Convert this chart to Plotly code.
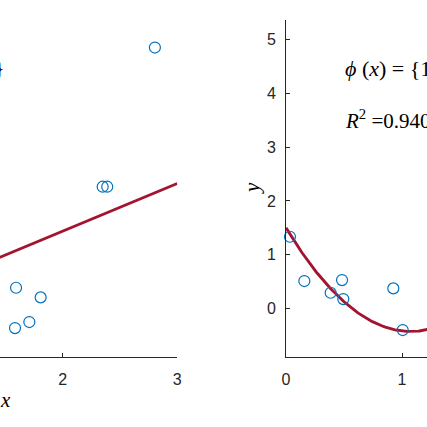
import numpy as np
import plotly.graph_objects as go

# data (same sample set in both panels)
x_data = [0.034, 0.158, 0.385, 0.483, 0.494, 0.925, 1.006, 1.44, 1.584,
          1.593, 1.709, 1.808, 2.349, 2.389, 2.805]
y_data = [1.334, 0.509, 0.291, 0.527, 0.173, 0.373, -0.404, -0.22, -0.367,
          0.384, -0.255, 0.205, 2.266, 2.266, 4.857]
y_ticks = [0, 1, 2, 3, 4, 5]
x_ticks = [0, 1, 2, 3]
label_left = "<i>ϕ</i> (<i>x</i>) = {1, <i>x</i>}"
label_right = "<i>ϕ</i> (<i>x</i>) = {1, <i>x</i>, <i>x</i><sup>2</sup>}"
r2_right_text = "0.940"

xa = np.array(x_data)
ya = np.array(y_data)
xf = np.linspace(0, 3, 301)
p1 = np.polyfit(xa, ya, 1)
p2 = np.polyfit(xa, ya, 2)
yf1 = np.polyval(p1, xf)
yf2 = np.polyval(p2, xf)
r2_left = 1 - np.sum((ya - np.polyval(p1, xa)) ** 2) / np.sum((ya - ya.mean()) ** 2)

BLUE = "#0072BD"
RED = "#A2142F"
AX = "#262626"
W = H = 427

fig = go.Figure()
mk = dict(symbol="circle-open", size=11, color=BLUE, line=dict(width=1.2, color=BLUE))
fig.add_trace(go.Scatter(x=xf, y=yf1, mode="lines", line=dict(color=RED, width=2.9),
                         xaxis="x", yaxis="y", showlegend=False))
fig.add_trace(go.Scatter(x=x_data, y=y_data, mode="markers", marker=mk, cliponaxis=False,
                         xaxis="x", yaxis="y", showlegend=False))
fig.add_trace(go.Scatter(x=xf, y=yf2, mode="lines", line=dict(color=RED, width=2.9),
                         xaxis="x2", yaxis="y2", showlegend=False))
fig.add_trace(go.Scatter(x=x_data, y=y_data, mode="markers", marker=mk, cliponaxis=False,
                         xaxis="x2", yaxis="y2", showlegend=False))

top_px, bot_px = 20.0, 356.7
ydom = [1 - bot_px / H, 1 - top_px / H]
yr = [-0.90, 5.37]
tickfont = dict(family="Liberation Sans, Arial", size=16, color=AX)
common_x = dict(showline=True, linecolor=AX, linewidth=1, ticks="inside", ticklen=4,
                tickcolor=AX, tickvals=x_ticks, tickfont=tickfont, showgrid=False,
                zeroline=False, ticklabelstandoff=8, automargin=False)

fig.update_layout(
    width=W, height=H, margin=dict(l=0, r=0, t=0, b=0, pad=0, autoexpand=False),
    paper_bgcolor="white", plot_bgcolor="white",
    xaxis=dict(domain=[0, 177.3 / W], range=[1.453, 3.0005], anchor="y", **common_x),
    yaxis=dict(domain=ydom, range=yr, visible=False, anchor="x", automargin=False),
    xaxis2=dict(domain=[286 / W, 1], range=[0, 141 / 116], anchor="y2", **common_x),
    yaxis2=dict(domain=ydom, range=yr, anchor="x2", showline=True, linecolor=AX, linewidth=1,
                ticks="inside", ticklen=4, tickcolor=AX, tickvals=y_ticks, tickfont=tickfont,
                showgrid=False, zeroline=False, ticklabelstandoff=6, automargin=False),
)

serif = dict(family="Liberation Serif, DejaVu Serif", size=22, color="black")
serif_r = dict(family="Liberation Serif, DejaVu Serif", size=21, color="black")
ann = []
# left panel texts
ann.append(dict(text=label_left, xref="x", yref="y", x=1.518, y=4.49, xanchor="right",
                yanchor="middle", showarrow=False, font=serif))
ann.append(dict(text="<i>R</i><sup>2</sup> =%.4f" % r2_left, xref="x", yref="y", x=1.30, y=3.52,
                xanchor="right", yanchor="middle", showarrow=False, font=serif_r))
# right panel texts
ann.append(dict(text=label_right, xref="x2", yref="y2", x=(343 - 286) / 116, y=4.5,
                xanchor="left", yanchor="middle", showarrow=False, font=serif))
ann.append(dict(text="<i>R</i><sup>2</sup> =" + r2_right_text, xref="x2", yref="y2",
                x=(343 - 286) / 116, y=3.52, xanchor="left", yanchor="middle",
                showarrow=False, font=serif_r))
# axis labels
ann.append(dict(text="<i>x</i>", xref="paper", yref="paper", x=5.5 / W, y=1 - 400 / H,
                xanchor="center", yanchor="middle", showarrow=False, font=serif_r))
ann.append(dict(text="<i>y</i>", xref="paper", yref="paper", x=252 / W, y=1 - 188 / H,
                xanchor="center", yanchor="middle", showarrow=False, font=serif_r,
                textangle=-90))
fig.update_layout(annotations=ann)

fig.write_html("out.html")
